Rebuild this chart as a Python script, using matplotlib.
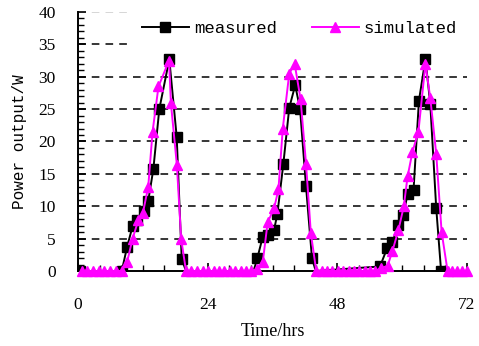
# Measured vs simulated power output over three days.

import matplotlib.pyplot as plt
from matplotlib.ticker import MultipleLocator

# measured series (hours, W); the night zeros carry no marker
meas_t = [0.3, 8.1,
          9.1, 10.1, 11.0, 12.2, 13.0, 13.95, 15.05, 16.9, 18.27, 19.2,
          20.0, 32.5,
          33.2, 34.2, 35.2, 36.3, 36.9, 38.0, 39.1, 40.2, 41.1, 42.2, 43.3,
          44.0,
          55.9, 57.2, 58.2, 59.3, 60.2, 61.0, 62.1, 63.1, 64.3, 65.2, 66.3, 67.2]
meas_p = [0, 0,
          3.75, 6.9, 7.9, 9.2, 10.8, 15.75, 25.0, 32.7, 20.7, 1.8,
          0, 0,
          2.0, 5.3, 5.6, 6.4, 8.8, 16.5, 25.2, 28.7, 25.0, 13.1, 2.0,
          0,
          0.7, 3.5, 4.5, 7.1, 8.6, 11.9, 12.5, 26.3, 32.7, 25.8, 9.7, 0]
meas_no_marker = [12, 13, 25]

# simulated series (hours, W)
sim_t = [0.7, 1.7, 2.8, 3.8, 4.9, 5.9, 7.0, 8.1,
         9.1, 10.1, 11.2, 12.0, 13.0, 13.8, 14.9, 16.85, 17.2, 18.3, 19.1,
         20.0, 21.0, 22.0, 23.1, 24.1, 25.1, 26.1, 27.1, 28.1, 29.1, 30.1,
         31.1, 32.1, 33.1,
         34.2, 35.1, 36.3, 37.1, 37.9, 39.1, 40.1, 41.2, 42.2, 43.1,
         44.1, 45.1, 46.1, 47.1, 48.1, 49.1, 50.1, 51.1, 52.1, 53.1, 54.1,
         55.0, 56.0,
         57.3, 58.2, 59.3, 60.3, 61.0, 61.9, 63.0, 64.3, 65.2, 66.3, 67.3,
         68.4, 69.3, 70.2, 71.1, 72.0]
sim_p = [0, 0, 0, 0, 0, 0, 0, 0,
         1.4, 5.0, 7.9, 8.9, 13.0, 21.5, 28.5, 32.5, 25.9, 16.4, 4.9,
         0, 0, 0, 0, 0, 0, 0, 0, 0, 0, 0,
         0, 0, 0.3,
         1.4, 7.5, 9.7, 12.6, 22.0, 30.5, 32.0, 26.5, 16.6, 5.8,
         0, 0, 0, 0, 0, 0, 0, 0, 0, 0, 0,
         0, 0.4,
         0.8, 3.1, 6.3, 10.0, 14.6, 18.4, 21.5, 32.0, 26.7, 18.1, 6.0,
         0, 0, 0, 0, 0]

x_ticks = [0, 24, 48, 72]
y_ticks = [0, 5, 10, 15, 20, 25, 30, 35, 40]

serif = 'Liberation Serif'
mono = 'Liberation Mono'

fig = plt.figure(figsize=(4.79, 3.46), dpi=100)
ax = fig.add_axes([0.1628, 0.2168, 0.8122, 0.7485])

for y in y_ticks[1:-1]:
    ax.axhline(y, color='black', linestyle=(0, (5, 4)), linewidth=1.1, zorder=1)
ax.axhline(40, color='#cccccc', linestyle=(0, (5, 4)), linewidth=1.1, zorder=1)

marks = [i for i in range(len(meas_t)) if i not in meas_no_marker]
ax.plot(meas_t, meas_p, color='black', linewidth=1.4, marker='s',
        markersize=6.5, markevery=marks, label='measured', zorder=3)
ax.plot(sim_t, sim_p, color='#ff00ff', linewidth=1.4, marker='^',
        markersize=6.5, label='simulated', zorder=4, clip_on=False)

ax.set_xlim(0, 72)
ax.set_ylim(0, 40)
ax.set_xticks(x_ticks)
ax.set_yticks(y_ticks)
ax.xaxis.set_minor_locator(MultipleLocator(4))
ax.yaxis.set_minor_locator(MultipleLocator(1))
ax.tick_params(axis='both', which='both', direction='in', color='black')
ax.tick_params(axis='both', which='major', length=6, width=1.2)
ax.tick_params(axis='both', which='minor', length=4, width=1.0)
ax.tick_params(axis='y', which='major', pad=16)
ax.tick_params(axis='x', which='major', pad=19)
for lab in ax.get_xticklabels() + ax.get_yticklabels():
    lab.set_fontfamily(serif)
    lab.set_fontsize(12.5)

ax.spines['top'].set_visible(False)
ax.spines['right'].set_visible(False)
ax.spines['left'].set_linewidth(1.4)
ax.spines['bottom'].set_linewidth(1.4)

ax.set_xlabel('Time/hrs', fontfamily=serif, fontsize=13, labelpad=7)
ax.set_ylabel('Power output/W', fontfamily=mono, fontsize=11.5, labelpad=8)

leg = ax.legend(loc='center left', bbox_to_anchor=(0.1285, 0.938), ncol=2,
                prop={'family': mono, 'size': 12.5}, frameon=True,
                fancybox=False, edgecolor='white', facecolor='white',
                framealpha=1, handlelength=2.7, handletextpad=0.3,
                columnspacing=2.0, borderpad=0.8, borderaxespad=0)
leg.set_zorder(5)

fig.savefig('out.png', dpi=100)
